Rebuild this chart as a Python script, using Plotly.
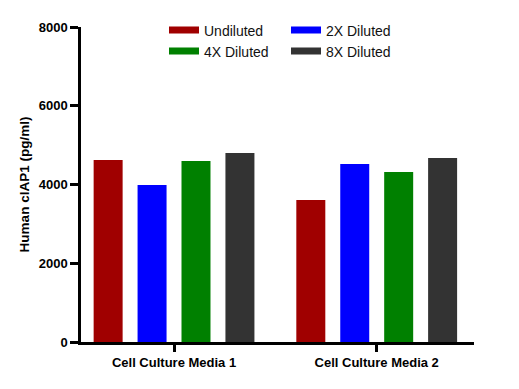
import plotly.graph_objects as go

categories = ["Cell Culture Media 1", "Cell Culture Media 2"]
series_names = ["Undiluted", "2X Diluted", "4X Diluted", "8X Diluted"]
undiluted = [4620, 3605]
diluted_2x = [3990, 4520]
diluted_4x = [4600, 4315]
diluted_8x = [4800, 4675]
colors = ["#a00000", "#0000ff", "#008000", "#333333"]
y_ticks = [0, 2000, 4000, 6000, 8000]

values = [undiluted, diluted_2x, diluted_4x, diluted_8x]

W, H = 519, 389
L, R, T, B = 81, 45, 27, 47
pw = W - L - R
ph = H - T - B

fig = go.Figure()
for name, vals, col in zip(series_names, values, colors):
    fig.add_trace(go.Bar(x=categories, y=vals, name=name, marker_color=col,
                         marker_line_width=0, showlegend=False))

# legend entries (one legend per entry to place them in a 2x2 grid), page px
leg_px = [(164, 30.5), (286, 30.5), (164, 51.5), (286, 51.5)]
legend_names = ["legend", "legend2", "legend3", "legend4"]
for i, (name, col) in enumerate(zip(series_names, colors)):
    fig.add_trace(go.Scatter(x=[None], y=[None], mode="lines", name=name,
                             line=dict(color=col, width=7),
                             legend=legend_names[i], showlegend=True))

layout_legends = {}
for i, ln in enumerate(legend_names):
    px, py = leg_px[i]
    layout_legends[ln] = dict(
        x=(px - L) / pw, y=(H - B - py) / ph, xanchor="left", yanchor="middle",
        bgcolor="rgba(0,0,0,0)", borderwidth=0,
        font=dict(family="Arial, Liberation Sans, sans-serif", size=14, color="#111"),
        itemwidth=30, tracegroupgap=0,
    )

fig.update_layout(
    width=W, height=H,
    margin=dict(l=L, r=R, t=T, b=B),
    plot_bgcolor="white", paper_bgcolor="white",
    barmode="group", bargap=0.133, bargroupgap=0.34,
    font=dict(family="Arial, Liberation Sans, sans-serif", color="black"),
    **layout_legends,
)

fig.update_xaxes(
    type="category", range=[-0.459, 1.480],
    showline=True, linecolor="black", linewidth=2.5,
    ticks="outside", ticklen=7, tickwidth=3, tickcolor="black",
    tickfont=dict(size=13, family="Arial, Liberation Sans, sans-serif", weight="bold"),
    showgrid=False, zeroline=False,
)
fig.update_yaxes(
    range=[0, 8000], tickvals=y_ticks, ticktext=[str(v) for v in y_ticks],
    showline=True, linecolor="black", linewidth=2.5,
    ticks="outside", ticklen=8, tickwidth=3, tickcolor="black",
    tickfont=dict(size=13, family="Arial, Liberation Sans, sans-serif", weight="bold"),
    title=dict(text="Human cIAP1 (pg/ml)", standoff=7,
               font=dict(size=13.5, family="Arial, Liberation Sans, sans-serif", weight="bold")),
    showgrid=False, zeroline=False,
)

fig.write_html("out.html", config={"displayModeBar": False},
               post_script="document.body.style.margin='0';")
